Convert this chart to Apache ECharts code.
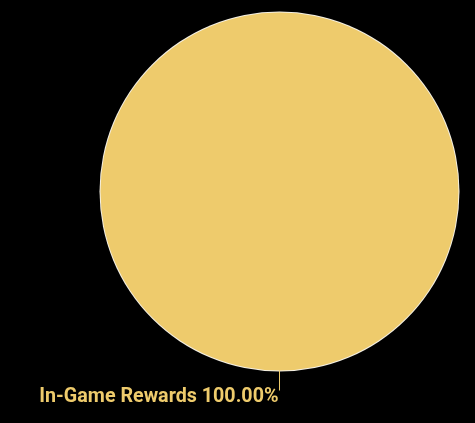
<!DOCTYPE html>
<html>
<head>
<meta charset="utf-8">
<title>Rewards</title>
<script src="https://cdn.jsdelivr.net/npm/echarts@6/dist/echarts.min.js"></script>
<style>
  html, body { margin: 0; padding: 0; background: #000; }
  #main { width: 475px; height: 423px; }
</style>
</head>
<body>
<div id="main"></div>
<script type="text/javascript">
    var categories = ['In-Game Rewards'];
    var values = [100];

    var myChart = echarts.init(document.getElementById('main'));
    var pieData = categories.map(function (c, i) {
        return { name: c, value: values[i] };
    });
    var option = {
        backgroundColor: '#000000',
        color: ['#EECB6C'],
        series: [
            {
                // thin white outline under the slice (avoids the radial seam of a stroked full sector)
                type: 'pie',
                silent: true,
                z: 1,
                center: [279.5, 191.5],
                radius: [0, 180],
                animation: false,
                itemStyle: { color: '#f4f0e4', borderWidth: 0 },
                label: { show: false },
                labelLine: { show: false },
                data: pieData
            },
            {
                type: 'pie',
                z: 2,
                center: [279.5, 191.5],
                radius: [0, 179],
                animation: false,
                itemStyle: { borderWidth: 0 },
                label: {
                    color: '#EECB6C',
                    fontFamily: 'Roboto',
                    fontWeight: 'bold',
                    fontSize: 19.7,
                    distanceToLabelLine: 1,
                    formatter: function (p) {
                        return '{gap|}\n{txt|' + p.name + ' ' + p.percent.toFixed(2) + '%}';
                    },
                    rich: {
                        gap: { height: 14, lineHeight: 14, fontSize: 1 },
                        txt: {
                            color: '#EECB6C',
                            fontFamily: 'Roboto',
                            fontWeight: 'bold',
                            fontSize: 19.7,
                            lineHeight: 20
                        }
                    }
                },
                labelLine: {
                    length: 20,
                    length2: 0,
                    lineStyle: { color: '#EECB6C', width: 1 }
                },
                data: pieData
            }
        ]
    };
    myChart.setOption(option);
</script>
</body>
</html>
